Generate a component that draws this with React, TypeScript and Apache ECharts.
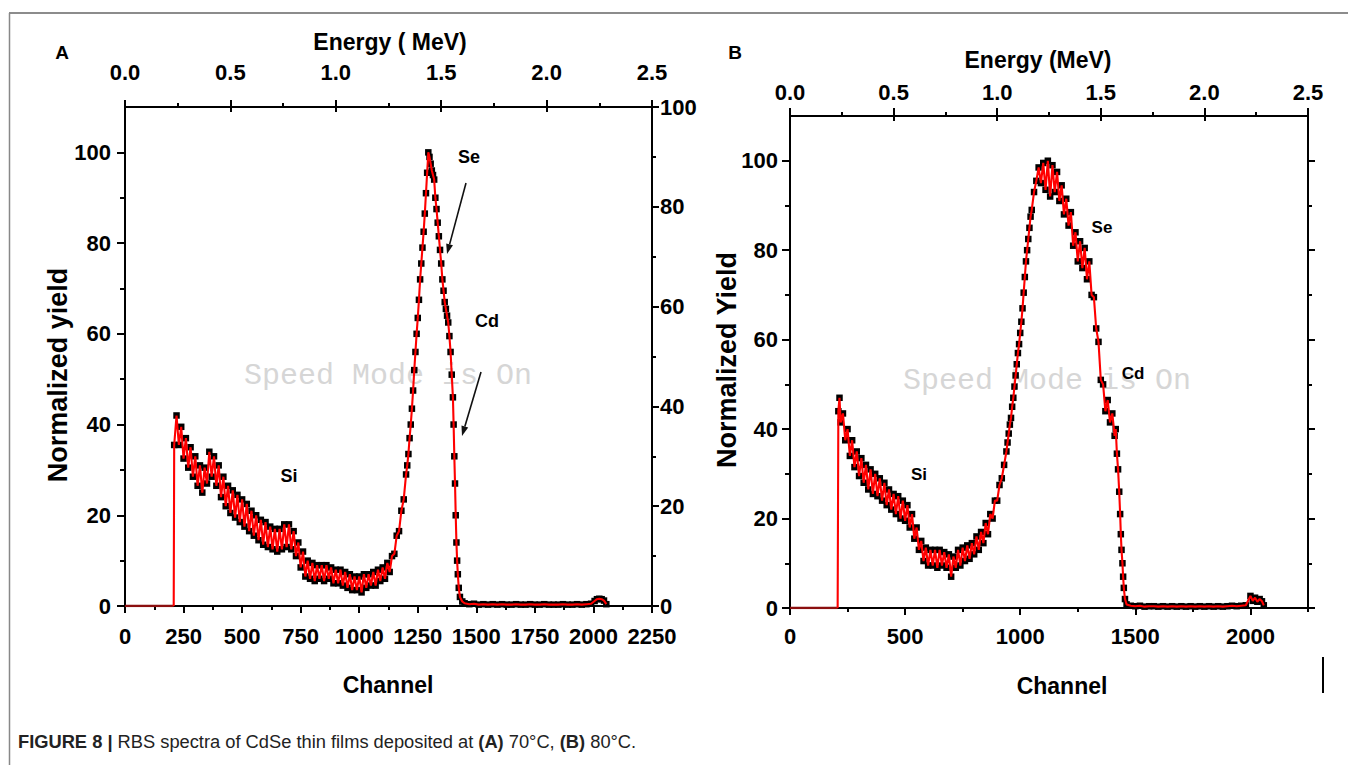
import React, { useEffect, useRef } from "react";
import * as echarts from "echarts";

// ---------- data ----------
// Panel A: RBS spectrum, film deposited at 70 °C  [channel, normalized yield]
const SPECTRUM_A: [number, number][] = [
  [210, 35.5], [220, 42], [230, 35.5], [240, 39.5], [250, 32.5], [260, 37], [270, 30.5], [280, 35], [290, 28.5], [300, 33],
  [310, 26.5], [320, 31], [330, 25], [340, 30.5], [350, 27], [360, 34], [370, 28.5], [380, 33], [390, 26.5], [400, 31],
  [410, 24], [420, 28.5], [430, 22], [440, 26.5], [450, 20.5], [460, 25.5], [470, 19.5], [480, 24.5], [490, 18.5], [500, 23.5],
  [510, 17.5], [520, 22.5], [530, 16.5], [540, 21], [550, 15.5], [560, 20], [570, 14.5], [580, 19], [590, 13.5], [600, 18.5],
  [610, 13], [620, 17.5], [630, 12.5], [640, 17], [650, 12], [660, 17], [670, 12.5], [680, 18], [690, 13], [700, 18],
  [710, 12.5], [720, 16.5], [730, 11], [740, 14], [750, 8.5], [760, 12], [770, 6.5], [780, 10], [790, 6], [800, 9.5],
  [810, 5.5], [820, 9], [830, 6], [840, 9], [850, 5.5], [860, 9], [870, 6], [880, 8.5], [890, 5], [900, 8],
  [910, 5], [920, 8], [930, 4.5], [940, 7.5], [950, 4], [960, 7], [970, 3.5], [980, 6.5], [990, 3.5], [1000, 6.5],
  [1010, 3], [1020, 7], [1030, 4], [1040, 7], [1050, 4.5], [1060, 7.5], [1070, 4.5], [1080, 8], [1090, 5.5], [1100, 8.5],
  [1110, 6], [1120, 9.5], [1130, 7.5], [1140, 11], [1150, 11.5], [1160, 15.5], [1170, 16.5], [1180, 21], [1190, 23.5], [1200, 29],
  [1205, 31], [1210, 33.5], [1215, 37], [1220, 40], [1225, 43.5], [1230, 47.5], [1235, 52], [1240, 56], [1245, 60], [1250, 63.5],
  [1255, 67.5], [1260, 72], [1265, 75.5], [1270, 79], [1275, 82.5], [1280, 86.5], [1285, 91], [1290, 95.5], [1295, 100], [1300, 99],
  [1305, 97.5], [1310, 96], [1315, 95], [1320, 94], [1325, 90], [1330, 87.5], [1335, 84.5], [1340, 81.5], [1345, 78.5], [1350, 75.5],
  [1355, 72], [1360, 69.5], [1365, 67], [1370, 65.5], [1375, 64], [1380, 62.5], [1385, 59.5], [1390, 56], [1395, 51], [1400, 46],
  [1403, 40], [1406, 33], [1409, 27], [1412, 20], [1415, 14], [1418, 10], [1421, 7], [1425, 4], [1430, 2], [1440, 1], [1450, 0.6],
  [1470, 0.4], [1490, 0.5], [1510, 0.3], [1530, 0.4], [1550, 0.3], [1570, 0.4], [1590, 0.3], [1610, 0.4], [1630, 0.3], [1650, 0.3],
  [1670, 0.4], [1690, 0.3], [1710, 0.3], [1730, 0.4], [1750, 0.3], [1770, 0.3], [1790, 0.4], [1810, 0.3], [1830, 0.3], [1850, 0.3],
  [1870, 0.4], [1890, 0.3], [1910, 0.3], [1930, 0.4], [1950, 0.3], [1970, 0.4], [1990, 0.5], [2005, 1.1], [2015, 1.5], [2025, 1.6],
  [2035, 1.5], [2045, 1.2], [2055, 0.4],
];
// leading (zero) part of the red simulated curve before the Si edge
const FIT_LEAD_A: [number, number][] = [[0, 0], [208, 0]];

// Panel B: RBS spectrum, film deposited at 80 °C
const SPECTRUM_B: [number, number][] = [
  [210, 44], [215, 47], [220, 41.5], [230, 43.5], [240, 37.5], [250, 40], [260, 34], [270, 37.5], [280, 31.5], [290, 35],
  [300, 29.5], [310, 33.5], [320, 28], [330, 32], [340, 26.5], [350, 31], [360, 25.5], [370, 30], [380, 25], [390, 29],
  [400, 24], [410, 28], [420, 23], [430, 26.5], [440, 22], [450, 25.5], [460, 21], [470, 25], [480, 20], [490, 24],
  [500, 19.5], [510, 23], [520, 18], [530, 21], [540, 15.5], [550, 18], [560, 13], [570, 15], [580, 10.5], [590, 13.5],
  [600, 9.5], [610, 13], [620, 9.5], [630, 13], [640, 9], [650, 13], [660, 9.5], [670, 12.5], [680, 9], [690, 12],
  [700, 7], [710, 11.5], [720, 9], [730, 13], [740, 9.5], [750, 13.5], [760, 10.5], [770, 14], [780, 11], [790, 14.5],
  [800, 12], [810, 16], [820, 13], [830, 17], [840, 14.5], [850, 19], [860, 16.5], [870, 21], [880, 20], [890, 24],
  [900, 24], [910, 27.5], [920, 29], [930, 32], [940, 35], [945, 37], [950, 39], [955, 41], [960, 42.5], [965, 45],
  [970, 47], [975, 49.5], [980, 52], [985, 54.5], [990, 57], [995, 59], [1000, 61.5], [1005, 64], [1010, 67], [1015, 70.5],
  [1020, 74], [1025, 77.5], [1030, 80], [1035, 82.5], [1040, 85], [1045, 87.5], [1050, 89], [1060, 93], [1070, 95.5], [1080, 98.5],
  [1090, 95], [1100, 99.5], [1110, 93.5], [1120, 100], [1130, 92], [1140, 99], [1150, 93], [1160, 97.5], [1170, 91], [1180, 94.5],
  [1190, 88], [1200, 91.5], [1210, 85.5], [1220, 88.5], [1230, 81], [1240, 84], [1250, 77.5], [1260, 82], [1270, 76], [1280, 80.5],
  [1290, 73.5], [1300, 77.5], [1310, 70], [1320, 69.5], [1330, 62.5], [1340, 59.5], [1350, 51], [1360, 50], [1370, 44], [1380, 46.5],
  [1390, 41.5], [1400, 43.5], [1410, 38.5], [1415, 40], [1420, 34.5], [1425, 31], [1430, 26], [1434, 21], [1437, 16.5], [1440, 13],
  [1444, 10], [1447, 7], [1450, 4.5], [1455, 2], [1462, 0.8], [1480, 0.5], [1500, 0.4], [1520, 0.5], [1540, 0.3], [1560, 0.4],
  [1580, 0.4], [1600, 0.3], [1620, 0.4], [1640, 0.3], [1660, 0.4], [1680, 0.3], [1700, 0.4], [1720, 0.3], [1740, 0.4], [1760, 0.3],
  [1780, 0.4], [1800, 0.3], [1820, 0.4], [1840, 0.3], [1860, 0.4], [1880, 0.3], [1900, 0.4], [1920, 0.5], [1940, 0.4], [1960, 0.5],
  [1980, 0.6], [2000, 2.7], [2010, 1.6], [2020, 2.3], [2030, 1.4], [2040, 2], [2050, 1.5], [2058, 0.6],
];
const FIT_LEAD_B: [number, number][] = [[0, 0], [207, 0]];

const YIELD_MAJOR = [0, 20, 40, 60, 80, 100];
const YIELD_MINOR = [10, 30, 50, 70, 90];
const CHANNEL_MAJOR_B = [0, 500, 1000, 1500, 2000];
const CHANNEL_MINOR_B = [250, 750, 1250, 1750, 2250];

// ---------- styling ----------
const SANS = "'Liberation Sans',Arial,Helvetica,sans-serif";
const MONO = "'Liberation Mono','Courier New',monospace";
const BLACK = "#000";
const lineS = { color: BLACK, width: 2 };
const labelS = { color: BLACK, fontSize: 22, fontWeight: "bold", fontFamily: SANS };

function axis(o: any) {
  return {
    type: "value",
    splitLine: { show: false },
    minorSplitLine: { show: false },
    ...o,
    axisLine: { show: true, onZero: false, lineStyle: lineS, ...(o.axisLine || {}) },
    axisTick: { show: true, lineStyle: lineS, ...(o.axisTick || {}) },
    axisLabel: { show: true, ...labelS, ...(o.axisLabel || {}) },
  };
}
const noLabel = { show: false };

function txt(text: string, x: number, y: number, size: number, extra: any = {}) {
  return {
    type: "text",
    x,
    y,
    z: 100,
    ...extra,
    style: {
      text,
      fill: BLACK,
      fontSize: size,
      fontWeight: "bold",
      fontFamily: SANS,
      align: "center",
      verticalAlign: "middle",
      ...(extra.style || {}),
    },
  };
}

function arrow(x1: number, y1: number, tx: number, ty: number) {
  const dx = tx - x1;
  const dy = ty - y1;
  const len = Math.sqrt(dx * dx + dy * dy);
  const ux = dx / len;
  const uy = dy / len;
  const bx = tx - ux * 10;
  const by = ty - uy * 10;
  const px = -uy * 3.5;
  const py = ux * 3.5;
  return [
    { type: "line", z: 100, shape: { x1, y1, x2: bx, y2: by }, style: { stroke: "#111", lineWidth: 1.6 } },
    {
      type: "polygon",
      z: 100,
      shape: { points: [[tx, ty], [bx + px, by + py], [bx - px, by - py]] },
      style: { fill: "#111" },
    },
  ];
}

export default function App() {
  const ref = useRef<HTMLDivElement>(null);

  useEffect(() => {
    if (!ref.current) return;
    const chart = echarts.init(ref.current, null, { renderer: "svg" });

    const fmt1 = (v: number) => v.toFixed(1);
    const fmt0 = (v: number) => String(v);

    const scatterStyle = { color: BLACK, opacity: 1 };
    const fitStyle = { color: "#ff0000", width: 2.1 };
    const leadStyle = { color: "#8b0f0f", width: 2.5 };

    const leadA = FIT_LEAD_A[FIT_LEAD_A.length - 1];
    const leadB = FIT_LEAD_B[FIT_LEAD_B.length - 1];

    const option: any = {
      animation: false,
      backgroundColor: "#fff",
      grid: [
        { left: 125, top: 107, width: 527, height: 499 },
        { left: 790, top: 116, width: 518, height: 492 },
      ],
      xAxis: [
        // 0: A channel (bottom)
        axis({
          gridIndex: 0, position: "bottom", min: 0, max: 2250, interval: 250,
          axisTick: { length: 7 },
          minorTick: { show: true, splitNumber: 2, length: 4, lineStyle: lineS },
          axisLabel: { margin: 19, formatter: fmt0 },
        }),
        // 1: A energy (top)
        axis({
          gridIndex: 0, position: "top", min: 0, max: 2.5, interval: 0.5,
          axisTick: { length: 7 },
          minorTick: { show: true, splitNumber: 2, length: 4, lineStyle: lineS },
          axisLabel: { margin: 24, formatter: fmt1 },
        }),
        // 2: A energy inner ticks
        axis({
          gridIndex: 0, position: "top", min: 0, max: 2.5, interval: 0.5,
          axisLine: { show: false }, axisTick: { inside: true, length: 5 }, axisLabel: noLabel,
        }),
        // 3: B channel (bottom)
        axis({
          gridIndex: 1, position: "bottom", min: 0, max: 2250, interval: 250,
          axisTick: { length: 7, customValues: CHANNEL_MAJOR_B },
          axisLabel: { margin: 17, customValues: CHANNEL_MAJOR_B, formatter: fmt0 },
        }),
        // 4: B channel minor ticks
        axis({
          gridIndex: 1, position: "bottom", min: 0, max: 2250, interval: 250,
          axisLine: { show: false },
          axisTick: { length: 4, customValues: CHANNEL_MINOR_B },
          axisLabel: noLabel,
        }),
        // 5: B energy (top)
        axis({
          gridIndex: 1, position: "top", min: 0, max: 2.5, interval: 0.5,
          axisTick: { length: 8 },
          minorTick: { show: true, splitNumber: 2, length: 4, lineStyle: lineS },
          axisLabel: { margin: 13, formatter: fmt1 },
        }),
        // 6: B energy inner ticks
        axis({
          gridIndex: 1, position: "top", min: 0, max: 2.5, interval: 0.5,
          axisLine: { show: false }, axisTick: { inside: true, length: 5 }, axisLabel: noLabel,
        }),
      ],
      yAxis: [
        // 0: A left
        axis({
          gridIndex: 0, position: "left", min: 0, max: 110, interval: 10,
          axisTick: { length: 8, customValues: YIELD_MAJOR },
          axisLabel: { margin: 14, customValues: YIELD_MAJOR },
        }),
        // 1: A left minor
        axis({
          gridIndex: 0, position: "left", min: 0, max: 110, interval: 10,
          axisLine: { show: false },
          axisTick: { length: 5, customValues: YIELD_MINOR },
          axisLabel: noLabel,
        }),
        // 2: A right (0-100)
        axis({
          gridIndex: 0, position: "right", min: 0, max: 100, interval: 20,
          axisTick: { length: 7 },
          minorTick: { show: true, splitNumber: 2, length: 4, lineStyle: lineS },
          axisLabel: { margin: 8 },
        }),
        // 3: B left
        axis({
          gridIndex: 1, position: "left", min: 0, max: 110, interval: 10,
          axisTick: { length: 8, customValues: YIELD_MAJOR },
          axisLabel: { margin: 12, customValues: YIELD_MAJOR },
        }),
        // 4: B left minor
        axis({
          gridIndex: 1, position: "left", min: 0, max: 110, interval: 10,
          axisLine: { show: false },
          axisTick: { length: 5, customValues: YIELD_MINOR },
          axisLabel: noLabel,
        }),
        // 5: B right
        axis({
          gridIndex: 1, position: "right", min: 0, max: 110, interval: 10,
          axisTick: { length: 7, customValues: YIELD_MAJOR },
          axisLabel: noLabel,
        }),
        // 6: B right minor
        axis({
          gridIndex: 1, position: "right", min: 0, max: 110, interval: 10,
          axisLine: { show: false },
          axisTick: { length: 4, customValues: YIELD_MINOR },
          axisLabel: noLabel,
        }),
      ],
      series: [
        {
          type: "line", name: "A fit lead", xAxisIndex: 0, yAxisIndex: 0, showSymbol: false, symbol: "none",
          lineStyle: leadStyle, data: FIT_LEAD_A, z: 3,
        },
        {
          type: "scatter", name: "A data", xAxisIndex: 0, yAxisIndex: 0,
          symbol: "rect", symbolSize: 6.5, itemStyle: scatterStyle, data: SPECTRUM_A, z: 2,
        },
        {
          type: "line", name: "A fit", xAxisIndex: 0, yAxisIndex: 0, showSymbol: false, symbol: "none",
          lineStyle: fitStyle, data: [leadA, ...SPECTRUM_A], z: 3,
        },
        {
          type: "line", name: "B fit lead", xAxisIndex: 3, yAxisIndex: 3, showSymbol: false, symbol: "none",
          lineStyle: leadStyle, data: FIT_LEAD_B, z: 3,
        },
        {
          type: "scatter", name: "B data", xAxisIndex: 3, yAxisIndex: 3,
          symbol: "rect", symbolSize: 6.5, itemStyle: scatterStyle, data: SPECTRUM_B, z: 2,
        },
        {
          type: "line", name: "B fit", xAxisIndex: 3, yAxisIndex: 3, showSymbol: false, symbol: "none",
          lineStyle: fitStyle, data: [leadB, ...SPECTRUM_B], z: 3,
        },
      ],
      graphic: [
        // figure frame
        { type: "line", z: 100, shape: { x1: 9, y1: 13, x2: 1348, y2: 13 }, style: { stroke: "#666", lineWidth: 1.5 } },
        { type: "line", z: 100, shape: { x1: 9.5, y1: 13, x2: 9.5, y2: 765 }, style: { stroke: "#888", lineWidth: 1.5 } },
        // watermarks
        {
          type: "text", x: 388, y: 376, z: 0,
          style: { text: "Speed Mode is On", fill: "#d6d6d6", fontSize: 30, fontFamily: MONO, align: "center", verticalAlign: "middle" },
        },
        {
          type: "text", x: 1047, y: 381, z: 0,
          style: { text: "Speed Mode is On", fill: "#d6d6d6", fontSize: 30, fontFamily: MONO, align: "center", verticalAlign: "middle" },
        },
        // panel letters
        txt("A", 62, 52, 19),
        txt("B", 735, 52, 19),
        // axis titles A
        txt("Energy ( MeV)", 390, 42, 23),
        txt("Channel", 388, 685, 23),
        txt("Normalized yield", 58, 375, 27, { rotation: Math.PI / 2 }),
        // axis titles B
        txt("Energy (MeV)", 1038, 60, 23),
        txt("Channel", 1062, 686, 23),
        txt("Normalized Yield", 727, 360, 27, { rotation: Math.PI / 2 }),
        // peak labels A
        txt("Se", 469, 157, 18),
        txt("Cd", 487, 321, 18),
        txt("Si", 289, 476, 18),
        ...arrow(466, 183, 447, 254),
        ...arrow(481, 372, 462, 436),
        // peak labels B
        txt("Se", 1102, 227, 17),
        txt("Cd", 1133, 373, 17),
        txt("Si", 919, 474, 17),
        // stray mark
        { type: "line", z: 100, shape: { x1: 1323, y1: 657, x2: 1323, y2: 693 }, style: { stroke: "#000", lineWidth: 2 } },
        // caption
        {
          type: "text", x: 18, y: 741, z: 100,
          style: {
            text: "{b|FIGURE 8 |} RBS spectra of CdSe thin films deposited at {b|(A)} 70°C, {b|(B)} 80°C.",
            fill: "#222", fontSize: 18.3, fontFamily: SANS, align: "left", verticalAlign: "middle",
            rich: { b: { fontWeight: "bold", fontSize: 18.3, fontFamily: SANS, fill: "#222" } },
          },
        },
      ],
    };

    chart.setOption(option);
    return () => chart.dispose();
  }, []);

  return (
    <div
      ref={ref}
      style={{ position: "absolute", left: 0, top: 0, width: 1348, height: 765, background: "#fff" }}
    />
  );
}
